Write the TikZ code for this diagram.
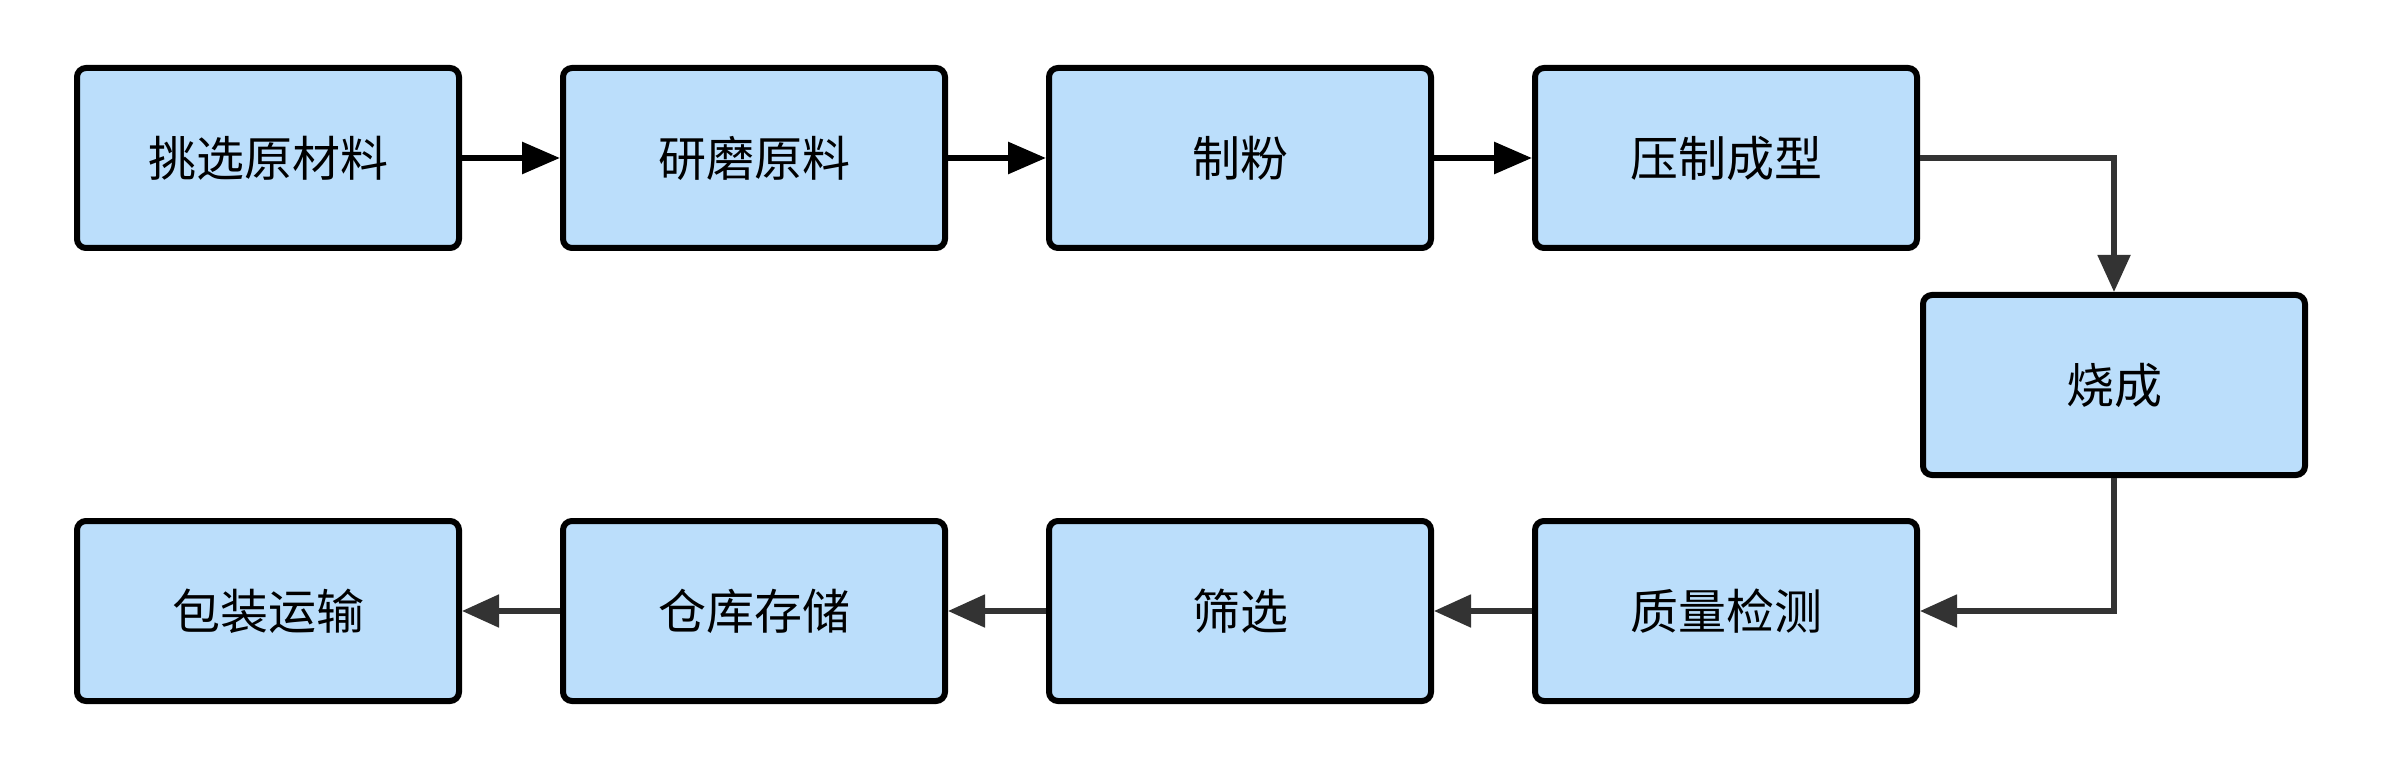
\documentclass[tikz,border=0pt]{standalone}
\usepackage{fontspec}
\newfontfamily\cjk{Noto Sans CJK SC}
\usetikzlibrary{arrows.meta}
\definecolor{boxfill}{HTML}{BBDEFB}
\definecolor{linegray}{HTML}{333333}
\tikzset{
  stepbox/.style={draw=black, line width=3pt, fill=boxfill, rounded corners=4.5pt,
    minimum width=191pt, minimum height=90pt, inner sep=0pt,
    font=\cjk\fontsize{24pt}{28pt}\selectfont},
  blackarrow/.style={draw=black, line width=3pt, -{Triangle[length=19pt,width=15.5pt]}},
  grayarrow/.style={draw=linegray, line width=2.6pt, -{Triangle[length=18.5pt,width=16pt]}}
}
\begin{document}
\begin{tikzpicture}[x=0.5pt,y=-0.5pt]
\useasboundingbox (0,0) rectangle (2382,780);
\node[stepbox] (a) at (268,158) {挑选原材料};
\node[stepbox] (b) at (754,158) {研磨原料};
\node[stepbox] (c) at (1240,158) {制粉};
\node[stepbox] (d) at (1726,158) {压制成型};
\node[stepbox] (e) at (2114,385) {烧成};
\node[stepbox] (f) at (1726,611) {质量检测};
\node[stepbox] (g) at (1240,611) {筛选};
\node[stepbox] (h) at (754,611) {仓库存储};
\node[stepbox] (i) at (268,611) {包装运输};
\draw[blackarrow] (a) -- (b);
\draw[blackarrow] (b) -- (c);
\draw[blackarrow] (c) -- (d);
\draw[grayarrow] (d.east) -| (e.north);
\draw[grayarrow] (e.south) |- (f.east);
\draw[grayarrow] (f) -- (g);
\draw[grayarrow] (g) -- (h);
\draw[grayarrow] (h) -- (i);
\end{tikzpicture}
\end{document}
